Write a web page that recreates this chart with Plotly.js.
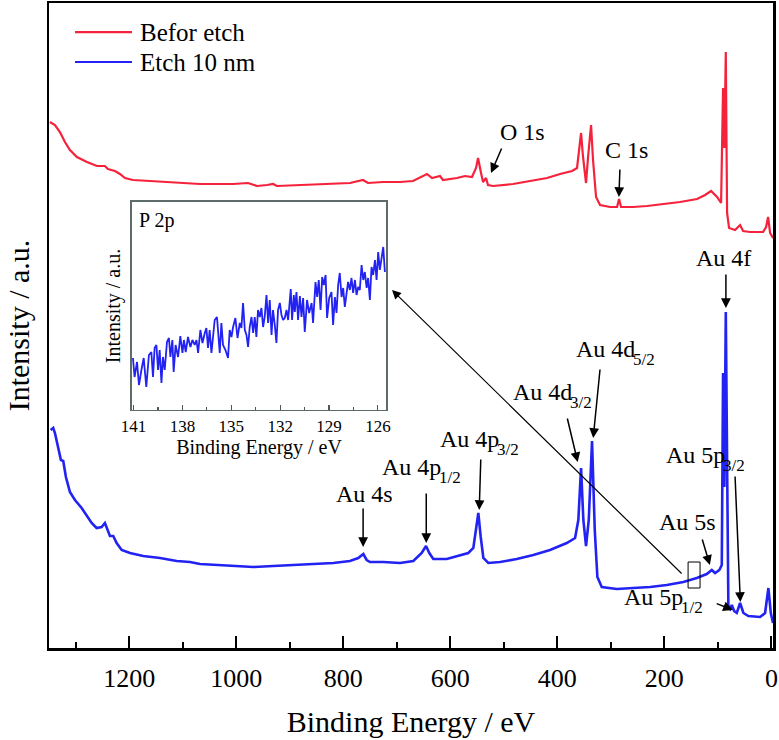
<!DOCTYPE html>
<html>
<head>
<meta charset="utf-8">
<script src="https://cdn.plot.ly/plotly-3.0.1.min.js"></script>
<style>html,body{margin:0;padding:0;background:#fff;}#chart{width:779px;height:740px;}</style>
</head>
<body>
<div id="chart"></div>
<script>
// ---- Main survey spectra (binding energy in eV, intensity in a.u.) ----
const redBE = [1348.3,1338.9,1329.6,1320.2,1310.9,1297.8,1279.1,1260.4,1245.5,1239.8,
  1226.8,1217.4,1208.1,1193.1,1161.3,1129.6,1099.7,1067.9,1036.1,1006.2,
  978.2,961.3,942.6,931.4,924.0,881.0,849.2,819.3,787.5,763.2,
  753.9,725.8,694.0,669.7,643.6,634.2,619.3,613.7,587.5,572.5,
  559.5,552.0,548.2,542.6,538.9,533.3,529.6,520.2,482.8,451.0,
  419.3,395.0,372.5,363.2,359.4,355.7,352.0,346.4,342.6,337.0,
  333.3,327.7,320.2,301.5,288.4,284.7,280.9,258.5,232.3,202.4,
  170.7,138.9,123.9,112.7,101.5,94.0,90.3,87.9,85.2,82.8,
  79.1,67.9,58.5,52.9,39.8,15.5,9.9,6.2,2.4,-3.0];
const redInt = [526,523,516,506,498,491,486,482,482,479,
  477,474,470,468,467,466,465,464,464,464,
  465,462,463,464,462,463,464,464,465,468,
  465,466,466,467,474,470,472,468,470,472,
  471,480,490,475,466,470,463,462,464,467,
  470,474,477,480,498,515,491,465,491,523,
  488,451,443,441,441,449,441,441,442,444,
  446,449,453,457,451,445,560,500,596,435,
  420,418,423,417,416,416,421,431,415,410];

const blueBE = [1347.0,1342.1,1338.9,1332.7,1327.7,1323.4,1318.4,1310.9,1301.5,1289.0,
  1279.7,1270.3,1261.0,1251.6,1245.5,1241.1,1236.1,1229.9,1223.6,1214.2,
  1198.7,1173.9,1142.6,1111.4,1086.6,1067.9,1036.7,1005.6,968.2,930.9,
  893.5,856.1,818.7,787.5,772.0,762.6,756.3,750.1,725.3,694.0,
  669.2,653.5,645.4,639.3,631.8,606.7,581.9,566.4,557.0,550.7,
  547.7,543.2,538.3,529.0,507.1,475.9,444.9,413.7,382.4,366.9,
  360.8,355.7,351.4,346.4,341.3,335.2,330.1,325.2,317.0,289.0,
  258.0,226.7,195.5,164.5,139.4,120.8,111.4,105.2,97.2,92.7,
  90.3,87.9,85.2,81.9,80.4,77.2,74.0,69.7,64.7,58.5,
  52.3,43.0,21.1,11.8,5.6,1.1,-3.0];
const blueInt = [218,220,215,201,188,187,171,156,148,140,
  133,125,120,121,125,118,112,112,105,98,
  95,92,90,87,86,84,83,82,81,82,
  83,84,85,87,90,94,88,86,86,85,
  87,95,102,95,89,89,93,95,100,121,
  135,111,90,85,86,89,93,98,105,110,
  128,180,128,102,128,207,118,71,61,59,
  60,61,63,66,70,74,78,75,78,83,
  275,161,336,58,41,39,43,37,35,45,
  35,32,31,35,60,35,25];

// ---- Inset: P 2p region of the etched sample ----
const insetBE = [141.04,140.94,140.79,140.67,140.52,140.38,140.22,140.06,139.91,139.81,
  139.71,139.60,139.50,139.40,139.29,139.20,139.09,138.95,138.83,138.74,
  138.62,138.54,138.42,138.27,138.13,138.00,137.91,137.80,137.66,137.51,
  137.39,137.25,137.14,137.04,136.90,136.77,136.63,136.53,136.43,136.33,
  136.22,136.12,136.02,135.88,135.71,135.61,135.51,135.36,135.20,135.10,
  134.99,134.89,134.75,134.62,134.48,134.38,134.28,134.17,134.07,133.97,
  133.87,133.76,133.66,133.56,133.46,133.36,133.25,133.15,133.05,132.95,
  132.84,132.74,132.64,132.53,132.44,132.33,132.23,132.13,132.02,131.92,
  131.82,131.72,131.61,131.51,131.35,131.27,131.16,131.10,131.00,130.90,
  130.79,130.69,130.59,130.49,130.35,130.22,130.07,129.98,129.83,129.73,
  129.63,129.52,129.42,129.32,129.21,129.12,128.99,128.85,128.75,128.64,
  128.54,128.44,128.34,128.23,128.13,128.03,127.92,127.83,127.72,127.62,
  127.52,127.41,127.31,127.21,127.11,127.00,126.90,126.80,126.69,126.60,
  126.49,126.39,126.29,126.18,126.08,125.98,125.88,125.77,125.67,125.57];
const insetInt = [52,33,48,25,40,52,23,55,58,33,
  62,65,40,60,27,53,40,68,72,53,
  70,38,65,53,74,57,70,58,73,63,
  70,65,70,57,80,67,77,82,62,80,
  57,77,90,93,57,87,65,60,52,80,
  73,83,92,72,87,82,107,80,75,63,
  83,93,77,93,73,100,93,102,83,93,
  115,87,110,75,100,85,67,100,107,95,
  90,92,100,90,121,90,115,98,118,90,
  114,93,112,78,110,97,107,87,128,113,
  130,100,133,125,135,92,112,118,85,113,
  97,125,137,113,122,103,115,128,120,132,
  117,130,115,123,120,145,130,138,122,132,
  110,143,135,150,130,158,140,155,163,138];

// ---- Tick labels ----
const mainTicks = [1200, 1000, 800, 600, 400, 200, 0];
const insetTicks = [141, 138, 135, 132, 129, 126];

// ---- Legend names and peak labels ----
const seriesNames = ["Befor etch", "Etch 10 nm"];
const peakMain = ["O 1s", "C 1s", "Au 4f", "Au 4d", "Au 4d", "Au 4p", "Au 4p", "Au 4s", "Au 5s", "Au 5p", "Au 5p"];
const peakSub  = ["", "", "", "5/2", "3/2", "3/2", "1/2", "", "", "3/2", "1/2"];
// label anchor [BE, intensity]: centre of label, or the join between text and subscript
const labelPos  = [[466,516],[270,498],[90,390],[257,299],[375,256],[511,209],[620,181],[760,154],[156,126],[89,193],[167,51]];
const arrowTail = [[503,501],[283,480],[85,375],[320,280],[382,231],[543,190],[645,156],[763,141],[130,110],[68,173],[105,45]];
const arrowHead = [[524,475],[285,451],[85,340],[333,210],[362,186],[546,138],[645,105],[763,101],[115,83],[58,46],[72,38]];
// zoom box and connector towards the inset
const boxBE = [155.7, 133.3];
const boxInt = [60, 86];
const connectorTail = [165, 73];
const connectorHead = [709, 358];

const RED = '#f5223c';
const BLUE = '#2222f2';
const SERIF = 'Liberation Serif';
const SUB_DROP = 10;

const traces = [
  {x: redBE, y: redInt, type: 'scatter', mode: 'lines', name: seriesNames[0],
   line: {color: RED, width: 2.2}, xaxis: 'x', yaxis: 'y', showlegend: false},
  {x: blueBE, y: blueInt, type: 'scatter', mode: 'lines', name: seriesNames[1],
   line: {color: BLUE, width: 2.6}, xaxis: 'x', yaxis: 'y', showlegend: false},
  {x: insetBE, y: insetInt, type: 'scatter', mode: 'lines', name: 'P 2p',
   line: {color: BLUE, width: 1.8}, xaxis: 'x2', yaxis: 'y2', showlegend: false}
];

const annotations = [];
for (let i = 0; i < peakMain.length; i++) {
  const hasSub = peakSub[i] !== '';
  annotations.push({x: labelPos[i][0], y: labelPos[i][1], xref: 'x', yref: 'y',
    xanchor: hasSub ? 'right' : 'center', yanchor: 'middle', xshift: hasSub ? 3 : 0,
    text: peakMain[i], showarrow: false, font: {family: SERIF, size: 24, color: '#000'}});
  if (hasSub) {
    annotations.push({x: labelPos[i][0], y: labelPos[i][1] - SUB_DROP, xref: 'x', yref: 'y',
      xanchor: 'left', yanchor: 'middle', xshift: -3,
      text: peakSub[i], showarrow: false, font: {family: SERIF, size: 17, color: '#000'}});
  }
  annotations.push({x: arrowHead[i][0], y: arrowHead[i][1], xref: 'x', yref: 'y',
    ax: arrowTail[i][0], ay: arrowTail[i][1], axref: 'x', ayref: 'y', text: '',
    showarrow: true, arrowhead: 2, arrowsize: 1.3, arrowwidth: 1.5, arrowcolor: '#000'});
}
annotations.push({x: connectorHead[0], y: connectorHead[1], xref: 'x', yref: 'y',
  ax: connectorTail[0], ay: connectorTail[1], axref: 'x', ayref: 'y',
  text: '', showarrow: true, arrowhead: 2, arrowsize: 1.5, arrowwidth: 1.2, arrowcolor: '#000'});
// inset label
annotations.push({x: 0.02, y: 0.91, xref: 'x2 domain', yref: 'y2 domain', xanchor: 'left', yanchor: 'middle',
  text: 'P 2p', showarrow: false, font: {family: SERIF, size: 20, color: '#000'}});
// legend text
annotations.push({x: 0.1229, y: 0.955, xref: 'paper', yref: 'paper', xanchor: 'left', yanchor: 'middle',
  text: seriesNames[0], showarrow: false, font: {family: SERIF, size: 25, color: '#000'}});
annotations.push({x: 0.1229, y: 0.9085, xref: 'paper', yref: 'paper', xanchor: 'left', yanchor: 'middle',
  text: seriesNames[1], showarrow: false, font: {family: SERIF, size: 25, color: '#000'}});

const shapes = [
  {type: 'rect', xref: 'x', yref: 'y', x0: boxBE[0], x1: boxBE[1], y0: boxInt[0], y1: boxInt[1],
   line: {color: '#000', width: 1}},
  {type: 'line', xref: 'paper', yref: 'paper', x0: 0.0359, x1: 0.1146, y0: 0.955, y1: 0.955,
   line: {color: RED, width: 2.2}},
  {type: 'line', xref: 'paper', yref: 'paper', x0: 0.0359, x1: 0.1146, y0: 0.9085, y1: 0.9085,
   line: {color: BLUE, width: 2.2}}
];

const layout = {
  width: 779, height: 740,
  margin: {l: 49, r: 6, t: 3, b: 92},
  paper_bgcolor: '#fff', plot_bgcolor: '#fff',
  font: {family: SERIF, color: '#000'},
  showlegend: false,
  xaxis: {
    domain: [0, 1], range: [1350, -3], tickvals: mainTicks, automargin: false,
    ticks: 'inside', ticklen: 12, tickwidth: 2, tickcolor: '#000', ticklabelstandoff: 5,
    minor: {dtick: 100, tick0: 0, ticks: 'inside', ticklen: 6, tickwidth: 2, tickcolor: '#000'},
    showline: true, linewidth: 2.5, linecolor: '#000', mirror: true,
    showgrid: false, zeroline: false,
    tickfont: {family: SERIF, size: 26, color: '#000'},
    title: {text: 'Binding Energy / eV', font: {family: SERIF, size: 30, color: '#000'}, standoff: 20}
  },
  yaxis: {
    domain: [0, 1], range: [0, 645], showticklabels: false, ticks: '', automargin: false,
    showline: true, linewidth: 2.5, linecolor: '#000', mirror: true,
    showgrid: false, zeroline: false,
    title: {text: 'Intensity / a.u.', font: {family: SERIF, size: 30, color: '#000'}, standoff: 8}
  },
  xaxis2: {
    domain: [0.1146, 0.4655], anchor: 'y2', range: [141.1, 125.5], tickvals: insetTicks,
    ticks: 'inside', ticklen: 5, tickwidth: 1.2, tickcolor: '#555',
    minor: {dtick: 1.5, tick0: 126, ticks: 'inside', ticklen: 3, tickwidth: 1.2, tickcolor: '#555'},
    showline: true, linewidth: 1.5, linecolor: '#5d6b6b', mirror: true,
    showgrid: false, zeroline: false,
    tickfont: {family: SERIF, size: 17, color: '#000'},
    title: {text: 'Binding Energy / eV', font: {family: SERIF, size: 20, color: '#000'}, standoff: 4}
  },
  yaxis2: {
    domain: [0.369, 0.6915], anchor: 'x2', range: [0, 208], showticklabels: false, ticks: '',
    showline: true, linewidth: 1.5, linecolor: '#5d6b6b', mirror: true,
    showgrid: false, zeroline: false,
    title: {text: 'Intensity / a.u.', font: {family: SERIF, size: 20, color: '#000'}, standoff: 4}
  },
  annotations: annotations,
  shapes: shapes
};

Plotly.newPlot('chart', traces, layout, {displayModeBar: false, staticPlot: true});
</script>
</body>
</html>
